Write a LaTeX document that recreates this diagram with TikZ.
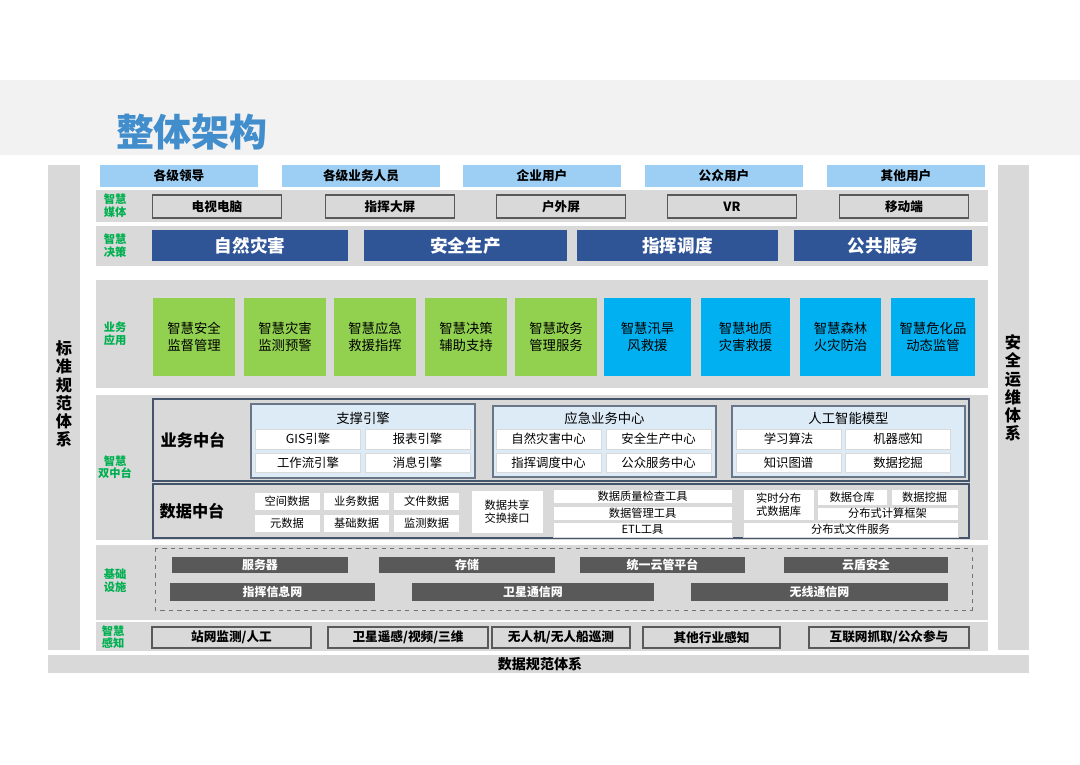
\documentclass[tikz,border=0pt]{standalone}
\usepackage{fontspec}
\setmainfont{Noto Sans CJK SC}
\usetikzlibrary{positioning}
\definecolor{bandgray}{RGB}{217,217,217}
\definecolor{headgray}{RGB}{242,242,242}
\definecolor{userblue}{RGB}{157,207,244}
\definecolor{navy}{RGB}{47,85,151}
\definecolor{leafgreen}{RGB}{146,208,80}
\definecolor{skyblue}{RGB}{0,176,240}
\definecolor{paleblue}{RGB}{221,235,247}
\definecolor{slate}{RGB}{68,84,106}
\definecolor{darkbar}{RGB}{89,89,89}
\definecolor{labelgreen}{RGB}{0,176,80}
\definecolor{titleblue}{RGB}{66,142,204}
\tikzset{
  sz/.style 2 args={minimum width=#1*0.025cm, minimum height=#2*0.025cm},
  base/.style={inner sep=0pt, outer sep=0pt, align=center},
  userbox/.style={base, fill=userblue, font=\bfseries\fontsize{9}{11}\selectfont, sz={158}{22}},
  mediabox/.style={base, fill=bandgray, draw=black!65, line width=0.8pt, font=\bfseries\fontsize{9}{11}\selectfont},
  decbox/.style={base, fill=navy, text=white, font=\bfseries\fontsize{12.5}{14}\selectfont},
  appbox/.style={base, font=\fontsize{9.5}{12}\selectfont, sz={82}{78}},
  rowlabel/.style={base, text=labelgreen, font=\bfseries\fontsize{8}{9}\selectfont},
  panel/.style={base, fill=paleblue, draw=slate!80, line width=0.8pt},
  cellbox/.style={base, fill=white, draw=black!15, font=\fontsize{8.8}{10}\selectfont},
  datacell/.style={base, fill=white, draw=black!15, font=\fontsize{8}{9}\selectfont},
  barbox/.style={base, fill=darkbar, text=white, font=\bfseries\fontsize{8.5}{10}\selectfont},
  sidetext/.style={base, font=\bfseries\fontsize{11.5}{13}\selectfont}
}
\begin{document}
\begin{tikzpicture}[x=0.025cm, y=-0.025cm]
  \useasboundingbox (0,0) rectangle (1080,764);

  % header
  \fill[headgray] (0,80) rectangle (1080,155);
  \node[base, anchor=west, text=titleblue, font=\bfseries\fontsize{27}{31}\selectfont] (title) at (116,132) {整体架构};

  % side and bottom frames
  \fill[bandgray] (48,165) rectangle (80,650);
  \fill[bandgray] (998,165) rectangle (1029,650);
  \fill[bandgray] (48,655) rectangle (1029,673);
  \node[sidetext] (stdspec) at (64,394) {标\\准\\规\\范\\体\\系};
  \node[sidetext] (secops) at (1013,388) {安\\全\\运\\维\\体\\系};
  \node[base, font=\bfseries\fontsize{10}{12}\selectfont] (dataspec) at (540,664) {数据规范体系};

  % users
  \foreach \cx/\t [count=\i] in {179/各级领导, 361/各级业务人员, 542/企业用户, 724/公众用户, 906/其他用户}
    \node[userbox] (user\i) at (\cx,176) {\t};

  % smart media
  \fill[bandgray] (96,190) rectangle (988,222);
  \node[rowlabel] (lmedia) at (115,206) {智慧\\媒体};
  \foreach \cx/\t [count=\i] in {217/电视电脑, 390/指挥大屏, 561/户外屏, 732/VR, 904/移动端}
    \node[mediabox, sz={129}{23}] (media\i) at (\cx,206.5) {\t};

  % smart decision
  \fill[bandgray] (96,226) rectangle (988,266);
  \node[rowlabel] (ldec) at (115,246) {智慧\\决策};
  \foreach \cx/\w/\t [count=\i] in {250/196/自然灾害, 465.5/203/安全生产, 677.5/201/指挥调度, 883/178/公共服务}
    \node[decbox, sz={\w}{31}] (dec\i) at (\cx,245.5) {\t};

  % business apps
  \fill[bandgray] (96,280) rectangle (988,388);
  \node[rowlabel] (lapp) at (115,334) {业务\\应用};
  \foreach \cx/\t [count=\i] in {194/智慧安全\\监督管理, 285/智慧灾害\\监测预警, 375/智慧应急\\救援指挥, 466/智慧决策\\辅助支持, 556/智慧政务\\管理服务}
    \node[appbox, fill=leafgreen] (gapp\i) at (\cx,337) {\t};
  \foreach \cx/\w/\t [count=\i] in {647.5/87/智慧汛旱\\风救援, 745.5/89/智慧地质\\灾害救援, 840.5/81/智慧森林\\火灾防治, 933/84/智慧危化品\\动态监管}
    \node[appbox, fill=skyblue, sz={\w}{78}] (bapp\i) at (\cx,337) {\t};

  % dual platform
  \fill[bandgray] (96,395) rectangle (988,540);
  \node[rowlabel] (lplat) at (115,467) {智慧\\双中台};
  \draw[fill=bandgray, draw=slate, line width=1pt] (153,399) rectangle (969,481);
  \node[base, font=\bfseries\fontsize{11.5}{13}\selectfont] (bizplat) at (193,440) {业务中台};
  \draw[fill=bandgray, draw=slate, line width=1pt] (153,484) rectangle (969,538);
  \node[base, font=\bfseries\fontsize{11.5}{13}\selectfont] (dataplat) at (192,511) {数据中台};

  \node[panel, sz={224}{74}] (engine) at (363,441) {};
  \node[panel, sz={223}{71}] (emerg) at (604.5,441.5) {};
  \node[panel, sz={233}{71}] (aimodel) at (848.5,441.5) {};
  \node[base, font=\fontsize{9.5}{11}\selectfont] (enginet) at (363,418) {支撑引擎};
  \node[base, font=\fontsize{9.5}{11}\selectfont] (emergt) at (604.5,418) {应急业务中心};
  \node[base, font=\fontsize{9.5}{11}\selectfont] (aimodelt) at (848.5,418) {人工智能模型};

  \foreach \ca/\cb/\ta/\tb/\tc/\td/\n in {
      308/417.5/GIS引擎/报表引擎/工作流引擎/消息引擎/e,
      548.5/658.5/自然灾害中心/安全生产中心/指挥调度中心/公众服务中心/m,
      788.5/898/学习算法/机器感知/知识图谱/数据挖掘/a} {
    \node[cellbox, sz={105}{20}] (\n1) at (\ca,439) {\ta};
    \node[cellbox, sz={105}{20}] (\n2) at (\cb,439) {\tb};
    \node[cellbox, sz={105}{19}] (\n3) at (\ca,462.5) {\tc};
    \node[cellbox, sz={105}{19}] (\n4) at (\cb,462.5) {\td};
  }

  % data cells
  \foreach \cx/\ta/\tb [count=\i] in {287/空间数据/元数据, 356.5/业务数据/基础数据, 426.5/文件数据/监测数据} {
    \node[datacell, sz={66}{18}] (dat\i) at (\cx,501) {\ta};
    \node[datacell, sz={66}{18}] (dbt\i) at (\cx,523) {\tb};
  }
  \node[datacell, sz={72}{43}] (share) at (507,511.5) {数据共享\\交换接口};
  \node[datacell, sz={179}{14}] (tool1) at (642.5,496) {数据质量检查工具};
  \node[datacell, sz={179}{14}] (tool2) at (642.5,513) {数据管理工具};
  \node[datacell, sz={179}{15}] (tool3) at (642.5,529.5) {ETL工具};
  \node[datacell, sz={71}{31}] (rtdb) at (778.5,504.5) {实时分布\\式数据库};
  \node[datacell, sz={70}{16}] (dwh) at (852,497) {数据仓库};
  \node[datacell, sz={67}{16}] (dmine) at (924.5,497) {数据挖掘};
  \node[datacell, sz={141}{13}] (dcomp) at (887.5,513.5) {分布式计算框架};
  \node[datacell, sz={215}{15}] (dfs) at (850.5,529.5) {分布式文件服务};

  % infrastructure
  \fill[bandgray] (96,545) rectangle (988,620);
  \node[rowlabel] (linfra) at (115,581) {基础\\设施};
  \draw[black!55, dashed, line width=0.6pt] (155,548) rectangle (972,610);
  \foreach \cx/\w/\t [count=\i] in {260/176/服务器, 467/176/存储, 662.5/165/统一云管平台, 866/164/云盾安全}
    \node[barbox, sz={\w}{16}] (infa\i) at (\cx,565) {\t};
  \foreach \cx/\w/\t [count=\i] in {272.5/205/指挥信息网, 533/242/卫星通信网, 819.5/257/无线通信网}
    \node[barbox, sz={\w}{18}] (infb\i) at (\cx,592) {\t};

  % smart sensing
  \fill[bandgray] (96,622) rectangle (988,651);
  \node[rowlabel] (lsense) at (113,637) {智慧\\感知};
  \foreach \cx/\w/\t [count=\i] in {231.5/159/{站网监测/人工}, 408/160/{卫星遥感/视频/三维}, 561/138/{无人机/无人船巡测}, 711.5/137/其他行业感知, 889/160/{互联网抓取/公众参与}}
    \node[mediabox, sz={\w}{21}] (sense\i) at (\cx,637.5) {\t};
\end{tikzpicture}
\end{document}
